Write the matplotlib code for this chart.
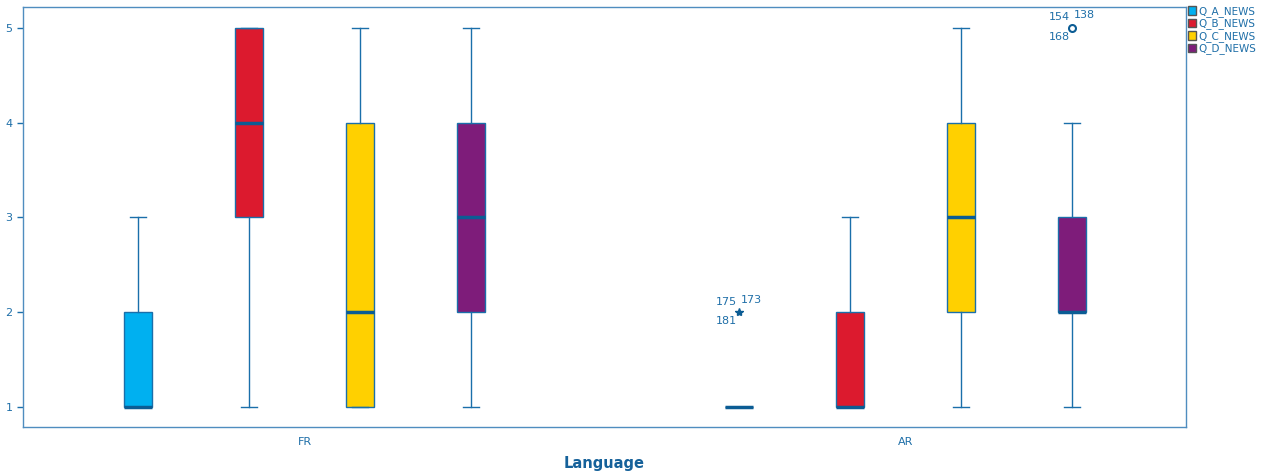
import matplotlib
matplotlib.use("Agg")
import matplotlib.pyplot as plt
from matplotlib.patches import Patch

languages = ["FR", "AR"]
questions = ["Q_A_NEWS", "Q_B_NEWS", "Q_C_NEWS", "Q_D_NEWS"]
colors = ["#00B0F0", "#DC1A2E", "#FFD000", "#7E1C7A"]

# five-number summaries per language, one row per question: (min, q1, median, q3, max)
fr_stats = [(1, 1, 1, 2, 3), (1, 3, 4, 5, 5), (1, 1, 2, 4, 5), (1, 2, 3, 4, 5)]
ar_stats = [(1, 1, 1, 1, 1), (1, 1, 1, 2, 3), (1, 2, 3, 4, 5), (1, 2, 2, 3, 4)]

# flagged cases: (language index, question index, value, marker, case labels)
flagged = [
    (1, 0, 2, "*", ["175", "173", "181"]),
    (1, 3, 5, "o", ["154", "138", "168"]),
]

line_c = "#1A6FAA"
med_c = "#0B5C94"
text_c = "#1F6FA8"

fig = plt.figure(figsize=(12.69, 4.76), dpi=100)
ax = fig.add_axes([23 / 1269, 1 - 427 / 476, (1186 - 23) / 1269, (427 - 7) / 476])

spacing = 0.1847
offsets = [-1.5, -0.5, 0.5, 1.5]
width = 28 / 601

for gi, stats in enumerate([fr_stats, ar_stats]):
    for qi, (lo, q1, med, q3, hi) in enumerate(stats):
        pos = gi + offsets[qi] * spacing
        bx = [dict(whislo=lo, q1=q1, med=med, q3=q3, whishi=hi, fliers=[])]
        ax.bxp(bx, positions=[pos], widths=width, patch_artist=True,
               showfliers=False, showcaps=True,
               boxprops=dict(facecolor=colors[qi], edgecolor=line_c, linewidth=1.0),
               medianprops=dict(color=med_c, linewidth=2.5, solid_capstyle="butt"),
               whiskerprops=dict(color=line_c, linewidth=1.0),
               capprops=dict(color=line_c, linewidth=1.0),
               capwidths=width * 0.57)

for gi, qi, val, mk, labels in flagged:
    pos = gi + offsets[qi] * spacing
    if mk == "*":
        ax.plot(pos, val, marker="*", ms=6, color=med_c, mec=med_c, ls="none", zorder=5)
    else:
        ax.plot(pos, val, marker="o", ms=5, mfc="white", mec=med_c, mew=1.5, ls="none", zorder=5)
    ax.text(pos - 0.004, val + 0.06, labels[0], ha="right", va="bottom", fontsize=8, color=text_c)
    ax.text(pos + 0.003, val + 0.08, labels[1], ha="left", va="bottom", fontsize=8, color=text_c)
    ax.text(pos - 0.004, val - 0.04, labels[2], ha="right", va="top", fontsize=8, color=text_c)

ax.set_xlim(-0.469, 1.466)
ax.set_ylim(0.789, 5.22)
ax.set_xticks([0, 1])
ax.set_xticklabels(languages)
ax.set_yticks([1, 2, 3, 4, 5])
ax.tick_params(axis="both", colors=line_c, labelcolor=text_c, labelsize=8, length=4, width=1)
ax.tick_params(axis="x", length=0, pad=7)
for sp in ax.spines.values():
    sp.set_color("#4F8DBF")
    sp.set_linewidth(1.0)

ax.set_xlabel("Language", fontsize=10.5, fontweight="bold", color="#15619A", labelpad=7)

handles = [Patch(facecolor=c, edgecolor="#555555", linewidth=1.0) for c in colors]
fig.legend(handles, questions, loc="upper left", bbox_to_anchor=(1187 / 1269, 1 - 5 / 476),
           frameon=False, fontsize=7.5, labelcolor=text_c, handlelength=0.8, handleheight=0.9,
           handletextpad=0.2, labelspacing=0.15, borderpad=0.1, borderaxespad=0)

fig.savefig("out.png", dpi=100)
